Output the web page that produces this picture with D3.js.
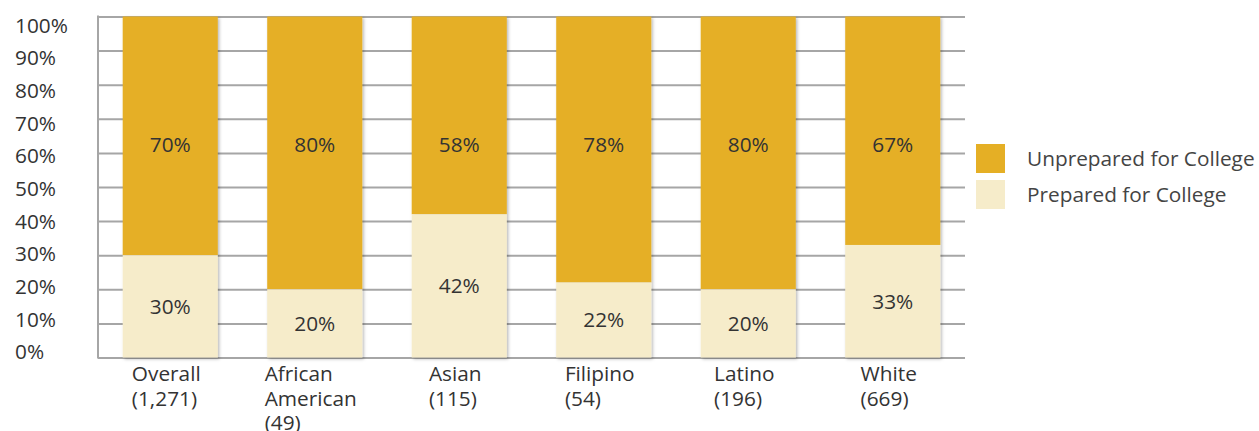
<!DOCTYPE html>
<html>
<head>
<meta charset="utf-8">
<script src="https://cdn.jsdelivr.net/npm/d3@7"></script>
<style>
  html, body { margin: 0; padding: 0; background: #fff; }
  svg { display: block; font-family: "Open Sans", sans-serif; }
</style>
</head>
<body>
<svg id="chart" width="1259" height="431"></svg>
<script>
// College readiness by student group (share of graduates, %)
const categories = [
  ["Overall", "(1,271)"],
  ["African", "American", "(49)"],
  ["Asian", "(115)"],
  ["Filipino", "(54)"],
  ["Latino", "(196)"],
  ["White", "(669)"]
];
const prepared   = [30, 20, 42, 22, 20, 33];
const unprepared = [70, 80, 58, 78, 80, 67];
const seriesNames = ["Unprepared for College", "Prepared for College"];
const yTicks = [0, 10, 20, 30, 40, 50, 60, 70, 80, 90, 100];

const COLORS = { unprepared: "#e5af25", prepared: "#f6ecca", grid: "#a6a6a6", text: "#333333" };
const FONT_SIZE = 20.8;

const svg = d3.select("#chart");
const plot = { left: 98, right: 965, top: 16.5, bottom: 357.5 };

const x = d3.scaleBand()
  .domain(d3.range(categories.length))
  .range([plot.left, plot.right])
  .paddingInner(0.342)
  .paddingOuter(0.171);

const y = d3.scaleLinear().domain([0, 100]).range([plot.bottom, plot.top]);
// tick labels sit on a slightly tighter ladder than the gridlines
const yLabel = d3.scaleLinear().domain([0, 100]).range([352, 25.5]);

// soft shadow under the bars
const defs = svg.append("defs");
const f = defs.append("filter").attr("id", "barShadow")
  .attr("x", "-10%").attr("y", "-10%").attr("width", "130%").attr("height", "130%");
f.append("feDropShadow").attr("dx", 1.5).attr("dy", 1.5).attr("stdDeviation", 1.5)
  .attr("flood-color", "#000").attr("flood-opacity", 0.28);

// gridlines
const gridAxis = d3.axisRight(y).tickValues(yTicks)
  .tickSize(plot.right - plot.left).tickFormat("");
const grid = svg.append("g").attr("transform", `translate(${plot.left},0)`).call(gridAxis);
grid.select(".domain").remove();
grid.selectAll(".tick line").attr("stroke", COLORS.grid).attr("stroke-width", 2);

// left axis line
svg.append("line")
  .attr("x1", plot.left).attr("x2", plot.left)
  .attr("y1", y(100) - 1).attr("y2", y(0) + 1)
  .attr("stroke", COLORS.grid).attr("stroke-width", 2);

// y tick labels
svg.append("g").selectAll("text").data(yTicks).join("text")
  .attr("x", 15).attr("y", d => yLabel(d))
  .attr("dy", "0.35em")
  .attr("font-size", FONT_SIZE).attr("fill", COLORS.text)
  .text(d => d + "%");

// stacked bars
const bars = svg.append("g");
categories.forEach((c, i) => {
  const g = bars.append("g").attr("filter", "url(#barShadow)");
  g.append("rect")
    .attr("x", x(i)).attr("width", x.bandwidth())
    .attr("y", y(prepared[i] + unprepared[i])).attr("height", y(prepared[i]) - y(prepared[i] + unprepared[i]))
    .attr("fill", COLORS.unprepared);
  g.append("rect")
    .attr("x", x(i)).attr("width", x.bandwidth())
    .attr("y", y(prepared[i])).attr("height", y(0) - y(prepared[i]))
    .attr("fill", COLORS.prepared);
});

// value labels
const labels = svg.append("g").attr("font-size", FONT_SIZE).attr("fill", COLORS.text).attr("text-anchor", "middle");
categories.forEach((c, i) => {
  const cx = x(i) + x.bandwidth() / 2;
  labels.append("text").attr("x", cx).attr("y", y(62.5)).attr("dy", "0.35em")
    .text(unprepared[i] + "%");
  labels.append("text").attr("x", cx).attr("y", y(prepared[i] / 2)).attr("dy", "0.35em")
    .text(prepared[i] + "%");
});

// category labels: left-aligned lines, block centred under each bar
const catG = svg.append("g").attr("font-size", FONT_SIZE).attr("fill", COLORS.text);
categories.forEach((lines, i) => {
  const t = catG.append("text").attr("y", 381);
  lines.forEach((ln, k) => {
    t.append("tspan").attr("dy", k === 0 ? 0 : 24.5).text(ln);
  });
  const w = d3.max(t.selectAll("tspan").nodes(), n => n.getComputedTextLength());
  const left = x(i) + x.bandwidth() / 2 - w / 2 - 4;
  t.selectAll("tspan").attr("x", left);
});

// legend
const legend = svg.append("g").attr("transform", "translate(976,144)");
const legendColors = [COLORS.unprepared, COLORS.prepared];
seriesNames.forEach((name, k) => {
  const row = legend.append("g").attr("transform", `translate(0,${k * 36})`);
  row.append("rect").attr("width", 29).attr("height", 29).attr("fill", legendColors[k]);
  row.append("text").attr("x", 51).attr("y", 14.5).attr("dy", "0.35em")
    .attr("font-size", FONT_SIZE).attr("fill", "#444").text(name);
});
</script>
</body>
</html>
